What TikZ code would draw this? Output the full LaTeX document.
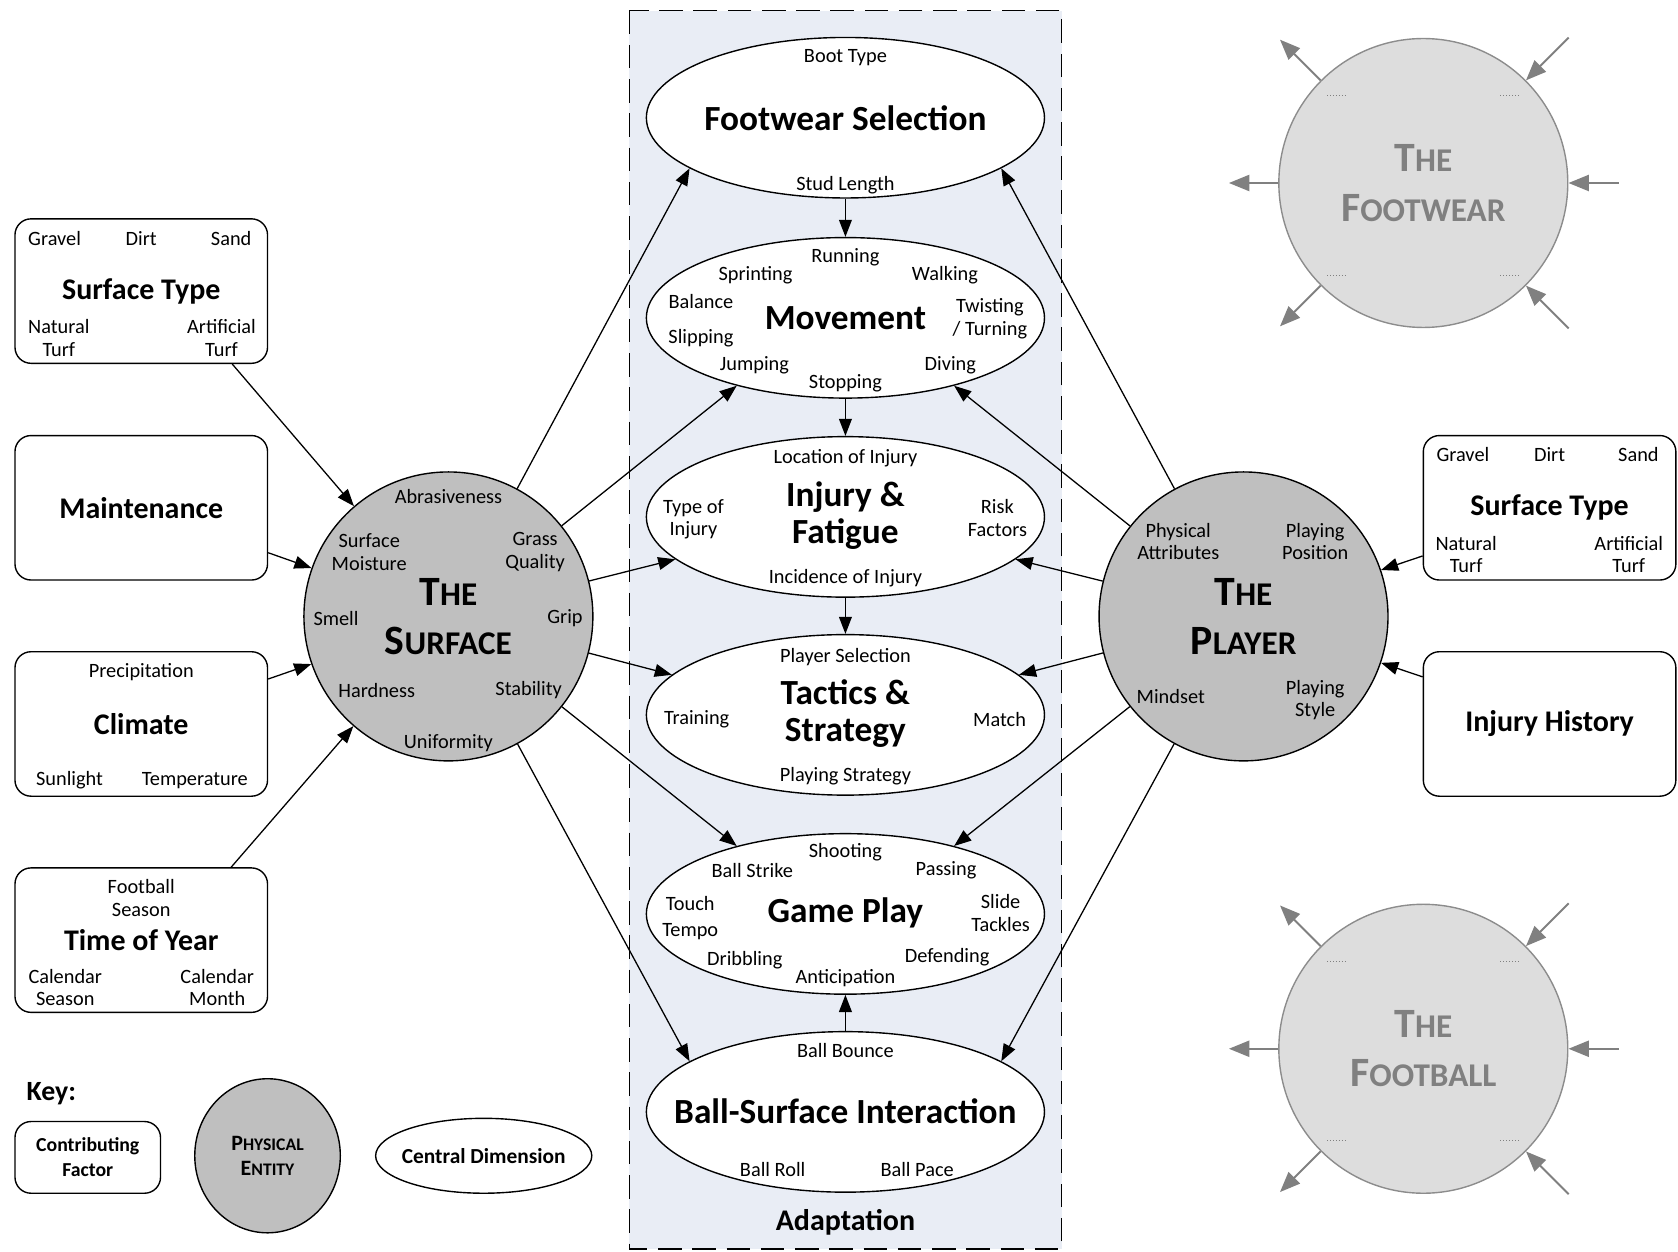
\documentclass[tikz,border=0pt]{standalone}
\usepackage{fontspec}
\setmainfont{Carlito}
\usetikzlibrary{shapes.geometric,arrows.meta}

\definecolor{panelblue}{RGB}{233,237,245}
\definecolor{entitygray}{RGB}{191,191,191}
\definecolor{ghostfill}{RGB}{221,221,221}
\definecolor{ghostline}{RGB}{140,140,140}
\definecolor{ghosttext}{RGB}{128,128,128}

% fake small caps for the entity names
\newcommand{\entname}[2]{{\fontsize{39}{46}\selectfont#1}{\fontsize{31}{46}\selectfont#2}}
\newcommand{\keyname}[2]{{\fontsize{20.5}{23}\selectfont#1}{\fontsize{16.5}{23}\selectfont#2}}

\begin{document}
\begin{tikzpicture}[x=1pt,y=-1pt,
  factor/.style={draw, rounded corners=15pt, line width=1.3pt, fill=white, minimum width=236pt, minimum height=135pt, font=\fontsize{28}{32}\selectfont\bfseries},
  entity/.style={circle, draw, fill=entitygray, line width=1.3pt, minimum size=270pt, inner sep=0pt, align=center, font=\fontsize{39}{46}\selectfont\bfseries},
  ghost/.style={circle, draw=ghostline, fill=ghostfill, line width=1.3pt, minimum size=270pt, inner sep=0pt, align=center, text=ghosttext, font=\fontsize{39}{46}\selectfont\bfseries},
  dimension/.style={ellipse, draw, fill=white, line width=1.3pt, minimum width=372pt, minimum height=150pt},
  dimtitle/.style={font=\fontsize{33}{35}\selectfont\bfseries, align=center, inner sep=0pt},
  lbl/.style={font=\fontsize{19}{21}\selectfont, align=center, inner sep=0pt, yshift=-2pt},
  link/.style={-{Triangle[length=16pt,width=12pt]}, line width=1.2pt},
  ghostlink/.style={-{Triangle[length=19pt,width=15pt]}, draw=ghosttext, line width=1.8pt},
  ghostdots/.style={draw=ghosttext, dotted, line width=0.8pt}]
  \useasboundingbox (0,0) rectangle (1568,1169);

  % adaptation panel
  \fill[panelblue] (588,10) rectangle (992,1167);
  \draw[line width=1.3pt, dash pattern=on 22pt off 10pt] (588,10) rectangle (992,1167);
  \node[font=\fontsize{28}{32}\selectfont\bfseries] (adapt) at (790,1142) {Adaptation};

  % central dimensions
  \node[dimension] (fws) at (790,110) {};
  \node[dimension] (mov) at (790,297) {};
  \node[dimension] (inj) at (790,483) {};
  \node[dimension] (tac) at (790,668) {};
  \node[dimension] (gpl) at (790,854) {};
  \node[dimension] (bsi) at (790,1039) {};
  \node[dimtitle] (fws-t) at (790,110) {Footwear Selection};
  \node[dimtitle] (mov-t) at (790,297) {Movement};
  \node[dimtitle] (inj-t) at (790,482) {Injury \&\\Fatigue};
  \node[dimtitle] (tac-t) at (790,667) {Tactics \&\\Strategy};
  \node[dimtitle] (gpl-t) at (790,853) {Game Play};
  \node[dimtitle] (bsi-t) at (790,1038) {Ball-Surface Interaction};

  \foreach \x/\y/\txt [count=\i] in {790/52/Boot Type, 790/171/Stud Length}
    \node[lbl] (fws-l\i) at (\x,\y) {\txt};
  \foreach \x/\y/\txt [count=\i] in {790/238/Running, 706/255/Sprinting, 883/255/Walking, 655/280/Balance, 655/314/Slipping, 925/296/{Twisting\\/ Turning}, 705/339/Jumping, 888/339/Diving, 790/356/Stopping}
    \node[lbl] (mov-l\i) at (\x,\y) {\txt};
  \foreach \x/\y/\txt [count=\i] in {790/426/Location of Injury, 648/483/{Type of\\Injury}, 932/482/{Risk\\Factors}, 790/538/Incidence of Injury}
    \node[lbl] (inj-l\i) at (\x,\y) {\txt};
  \foreach \x/\y/\txt [count=\i] in {790/612/Player Selection, 651/670/Training, 934/670/Match, 790/723/Playing Strategy}
    \node[lbl] (tac-l\i) at (\x,\y) {\txt};
  \foreach \x/\y/\txt [count=\i] in {790/794/Shooting, 703/811/Ball Strike, 884/811/Passing, 645/842/Touch, 645/869/Tempo, 935/851/{Slide\\Tackles}, 696/895/Dribbling, 885/892/Defending, 790/912/Anticipation}
    \node[lbl] (gpl-l\i) at (\x,\y) {\txt};
  \foreach \x/\y/\txt [count=\i] in {790/980/Ball Bounce, 722/1091/Ball Roll, 857/1091/Ball Pace}
    \node[lbl] (bsi-l\i) at (\x,\y) {\txt};

  % physical entities
  \node[entity] (surface) at (419,576) {\entname{T}{HE}\\\entname{S}{URFACE}};
  \node[entity] (player) at (1162,576) {\entname{T}{HE}\\\entname{P}{LAYER}};
  \foreach \x/\y/\txt [count=\i] in {419/462/Abrasiveness, 345/514/{Surface\\Moisture}, 500/514/{Grass\\Quality}, 314/576/Smell, 528/576/Grip, 352/643/Hardness, 494/643/Stability, 419/692/Uniformity}
    \node[lbl] (surface-l\i) at (\x,\y) {\txt};
  \foreach \x/\y/\txt [count=\i] in {1101/504/{Physical\\Attributes}, 1229/504/{Playing\\Position}, 1094/649/Mindset, 1229/652/{Playing\\Style}}
    \node[lbl] (player-l\i) at (\x,\y) {\txt};

  % contributing factors
  \node[factor] (lst) at (132,272) {Surface Type};
  \node[factor] (mnt) at (132,474.5) {Maintenance};
  \node[factor] (clm) at (132,676.5) {Climate};
  \node[factor] (toy) at (132,878.5) {Time of Year};
  \node[factor] (rst) at (1448,474.5) {Surface Type};
  \node[factor] (ihs) at (1448,676.5) {Injury History};
  \foreach \x/\y/\txt [count=\i] in {51/221/Gravel, 132/221/Dirt, 216/221/Sand, 55/314/{Natural\\Turf}, 207/314/{Artificial\\Turf}, 132/626/Precipitation, 65/727/Sunlight, 182/727/Temperature, 132/837/{Football\\Season}, 61/921/{Calendar\\Season}, 203/921/{Calendar\\Month}}
    \node[lbl] (left-l\i) at (\x,\y) {\txt};
  \foreach \x/\y/\txt [count=\i] in {1367/423/Gravel, 1448/423/Dirt, 1531/423/Sand, 1370/516/{Natural\\Turf}, 1522/516/{Artificial\\Turf}}
    \node[lbl] (right-l\i) at (\x,\y) {\txt};

  % greyed-out entities
  \node[ghost] (ftw) at (1330,171) {\entname{T}{HE}\\\entname{F}{OOTWEAR}};
  \node[ghost] (fbl) at (1330,980) {\entname{T}{HE}\\\entname{F}{OOTBALL}};
  \foreach \cy in {171,980}
    \foreach \dx/\dy in {-81/-82, 81/-82, -81/86, 81/86}
      \draw[ghostdots] (1321+\dx,\cy+\dy) -- ++(18,0);
  \foreach \g in {ftw,fbl} {
    \draw[ghostlink] (\g.135) -- ++(-38,-38);
    \draw[ghostlink] (\g.180) -- ++(-46,0);
    \draw[ghostlink] (\g.225) -- ++(-38,38);
    \draw[ghostlink] ([shift={(40,-40)}]\g.45) -- (\g.45);
    \draw[ghostlink] ([shift={(47,0)}]\g.0) -- (\g.0);
    \draw[ghostlink] ([shift={(40,40)}]\g.315) -- (\g.315);
  }

  % key
  \node[font=\fontsize{26}{30}\selectfont\bfseries] (keyttl) at (48,1022) {Key:};
  \node[factor, minimum width=136pt, minimum height=67pt, align=center, font=\fontsize{18.5}{23}\selectfont\bfseries] (keyfactor) at (82,1081.5) {Contributing\\Factor};
  \node[ellipse, draw, fill=entitygray, line width=1.3pt, minimum width=136pt, minimum height=144pt, align=center, font=\fontsize{20.5}{23}\selectfont\bfseries] (keyentity) at (250,1080) {\keyname{P}{HYSICAL}\\\keyname{E}{NTITY}};
  \node[dimension, minimum width=202pt, minimum height=70pt] (keydim) at (452,1080) {};
  \node[font=\fontsize{20}{22}\selectfont\bfseries, inner sep=0pt] (keydim-t) at (452,1080) {Central Dimension};

  % factors into entities
  \draw[link] ([xshift=85pt]lst.south) -- (surface);
  \draw[link] ([yshift=-42pt]mnt.east) -- (surface);
  \draw[link] ([yshift=42pt]clm.east) -- (surface);
  \draw[link] ([xshift=84pt]toy.north) -- (surface);
  \draw[link] ([yshift=-45pt]rst.west) -- (player);
  \draw[link] ([yshift=44pt]ihs.west) -- (player);

  % entities into dimensions
  \draw[link] (surface) -- (fws.198);
  \draw[link] (surface) -- (mov.212);
  \draw[link] (surface) -- (inj.194);
  \draw[link] (surface) -- (tac.167);
  \draw[link] (surface) -- (gpl.148);
  \draw[link] (surface) -- (bsi.162);
  \draw[link] (player) -- (fws.342);
  \draw[link] (player) -- (mov.328);
  \draw[link] (player) -- (inj.346);
  \draw[link] (player) -- (tac.13);
  \draw[link] (player) -- (gpl.32);
  \draw[link] (player) -- (bsi.18);

  % between dimensions
  \draw[link] (fws) -- (mov);
  \draw[link] (mov) -- (inj);
  \draw[link] (inj) -- (tac);
  \draw[link] (bsi) -- (gpl);
\end{tikzpicture}
\end{document}
